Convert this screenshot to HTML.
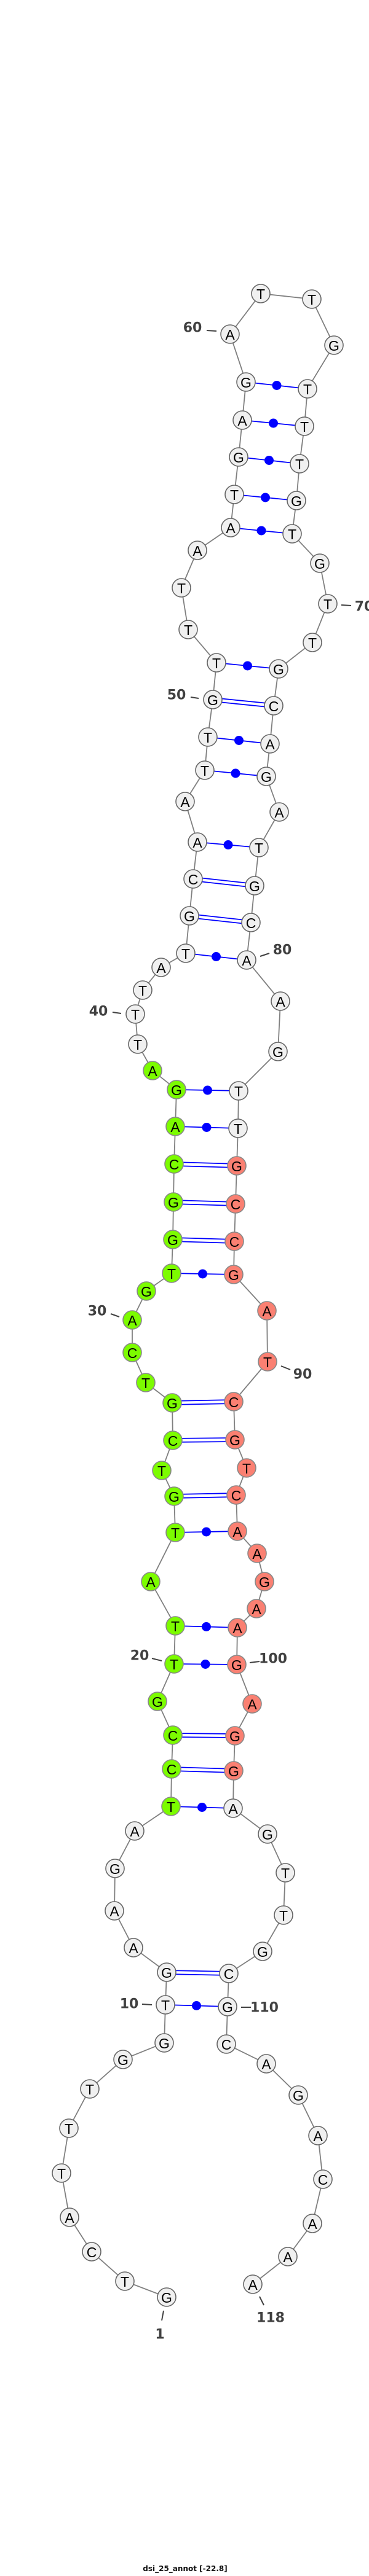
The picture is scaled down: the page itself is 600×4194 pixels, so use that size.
<!DOCTYPE html>
<html><head><meta charset="utf-8"><style>
html,body{margin:0;padding:0;background:#fff;}
svg{display:block;}
.w{fill:#f0f0f0;stroke:#666;stroke-width:1.6;}
.g{fill:#7cfc00;stroke:#888;stroke-width:1.6;}
.r{fill:#fa8072;stroke:#888;stroke-width:1.6;}
text.n{font-family:"Liberation Sans",sans-serif;font-size:23px;fill:#000;text-anchor:middle;dominant-baseline:central;}
text.l{font-family:"DejaVu Sans","Liberation Sans",sans-serif;font-weight:bold;font-size:22px;fill:#404040;text-anchor:middle;dominant-baseline:central;}
.p{stroke:#0000ff;stroke-width:1.8;fill:none;}
.t{stroke:#404040;stroke-width:2;}
</style></head><body>
<svg width="600" height="4194" viewBox="0 0 600 4194" xmlns="http://www.w3.org/2000/svg">
<polyline fill="none" stroke="#808080" stroke-width="1.8" points="271,3740 203,3714 149,3666 113,3610 100,3538 112,3465 146,3401 200,3353 267,3326 269,3264 271,3211 217,3171 186,3111 187,3042 219,2981 278,2941 279,2880 281,2825 256,2770 283,2709 285,2647 245,2575 285,2495 283,2436 263,2394 281,2345 280,2284 237,2251 215,2202 215,2149 238,2102 279,2073 281,2018 282,1957 283,1895 285,1834 287,1774 248,1743 224,1700 220,1651 232,1612 262,1575 302,1552 308,1491 314,1431 321,1371 301,1305 333,1254 338,1200 346,1139 352,1079 306,1025 295,957 321,896 375,859 381,805 388,744 394,684 400,622 374,544 424,478 507,487 543,562 500,633 495,694 487,755 482,815 475,869 520,917 533,983 508,1046 453,1089 445,1149 439,1211 433,1264 454,1322 421,1380 414,1442 408,1502 401,1563 456,1630 452,1712 388,1776 387,1837 385,1898 383,1960 381,2021 380,2075 434,2134 435,2217 380,2282 382,2344 401,2390 384,2434 386,2493 418,2529 430,2575 417,2619 386,2650 385,2710 410,2774 382,2826 380,2883 379,2944 435,2986 464,3049 461,3118 427,3177 372,3213 370,3267 368,3328 433,3360 485,3411 517,3477 525,3548 508,3620 468,3674 411,3719"/>
<!-- single (dot) pairs -->
<g class="p">
<line x1="269" y1="3264" x2="370" y2="3267"/>
<line x1="278" y1="2941" x2="379" y2="2944"/>
<line x1="283" y1="2709" x2="385" y2="2710"/>
<line x1="285" y1="2647" x2="386" y2="2650"/>
<line x1="285" y1="2495" x2="386" y2="2493"/>
<line x1="279" y1="2073" x2="380" y2="2075"/>
<line x1="285" y1="1834" x2="387" y2="1837"/>
<line x1="287" y1="1774" x2="388" y2="1776"/>
<line x1="302" y1="1552" x2="401" y2="1563"/>
<line x1="321" y1="1371" x2="421" y2="1380"/>
<line x1="333" y1="1254" x2="433" y2="1264"/>
<line x1="338" y1="1200" x2="439" y2="1211"/>
<line x1="352" y1="1079" x2="453" y2="1089"/>
<line x1="375" y1="859" x2="475" y2="869"/>
<line x1="381" y1="805" x2="482" y2="815"/>
<line x1="388" y1="744" x2="487" y2="755"/>
<line x1="394" y1="684" x2="495" y2="694"/>
<line x1="400" y1="622" x2="500" y2="633"/>
<!-- double pairs -->
<line x1="271" y1="3208" x2="372" y2="3210"/><line x1="271" y1="3214" x2="372" y2="3216"/>
<line x1="279" y1="2877" x2="380" y2="2880"/><line x1="279" y1="2883" x2="380" y2="2886"/>
<line x1="281" y1="2822" x2="382" y2="2823"/><line x1="281" y1="2828" x2="382" y2="2829"/>
<line x1="283" y1="2433" x2="384" y2="2431"/><line x1="283" y1="2439" x2="384" y2="2437"/>
<line x1="281" y1="2342" x2="382" y2="2341"/><line x1="281" y1="2348" x2="382" y2="2347"/>
<line x1="280" y1="2281" x2="380" y2="2279"/><line x1="280" y1="2287" x2="380" y2="2285"/>
<line x1="281" y1="2015" x2="381" y2="2018"/><line x1="281" y1="2021" x2="381" y2="2024"/>
<line x1="282" y1="1954" x2="383" y2="1957"/><line x1="282" y1="1960" x2="383" y2="1963"/>
<line x1="283" y1="1892" x2="385" y2="1895"/><line x1="283" y1="1898" x2="385" y2="1901"/>
<line x1="308" y1="1488" x2="408" y2="1499"/><line x1="308" y1="1494" x2="408" y2="1505"/>
<line x1="314" y1="1428" x2="414" y2="1439"/><line x1="314" y1="1434" x2="414" y2="1445"/>
<line x1="346" y1="1136" x2="445" y2="1146"/><line x1="346" y1="1142" x2="445" y2="1152"/>
</g>
<g fill="#0000ff">
<circle cx="319.5" cy="3265.5" r="7.5"/>
<circle cx="328.5" cy="2942.5" r="7.5"/>
<circle cx="334" cy="2709.5" r="7.5"/>
<circle cx="335.5" cy="2648.5" r="7.5"/>
<circle cx="335.5" cy="2494" r="7.5"/>
<circle cx="329.5" cy="2074" r="7.5"/>
<circle cx="336" cy="1835.5" r="7.5"/>
<circle cx="337.5" cy="1775" r="7.5"/>
<circle cx="351.5" cy="1557.5" r="7.5"/>
<circle cx="371" cy="1375.5" r="7.5"/>
<circle cx="383" cy="1259" r="7.5"/>
<circle cx="388.5" cy="1205.5" r="7.5"/>
<circle cx="402.5" cy="1084" r="7.5"/>
<circle cx="425" cy="864" r="7.5"/>
<circle cx="431.5" cy="810" r="7.5"/>
<circle cx="437.5" cy="749.5" r="7.5"/>
<circle cx="444.5" cy="689" r="7.5"/>
<circle cx="450" cy="627.5" r="7.5"/>
</g>
<!-- nodes -->
<g>
<circle class="w" cx="271" cy="3740" r="15"/><text class="n" x="271" y="3741">G</text>
<circle class="w" cx="203" cy="3714" r="15"/><text class="n" x="203" y="3715">T</text>
<circle class="w" cx="149" cy="3666" r="15"/><text class="n" x="149" y="3667">C</text>
<circle class="w" cx="113" cy="3610" r="15"/><text class="n" x="113" y="3611">A</text>
<circle class="w" cx="100" cy="3538" r="15"/><text class="n" x="100" y="3539">T</text>
<circle class="w" cx="112" cy="3465" r="15"/><text class="n" x="112" y="3466">T</text>
<circle class="w" cx="146" cy="3401" r="15"/><text class="n" x="146" y="3402">T</text>
<circle class="w" cx="200" cy="3353" r="15"/><text class="n" x="200" y="3354">G</text>
<circle class="w" cx="267" cy="3326" r="15"/><text class="n" x="267" y="3327">G</text>
<circle class="w" cx="269" cy="3264" r="15"/><text class="n" x="269" y="3265">T</text>
<circle class="w" cx="271" cy="3211" r="15"/><text class="n" x="271" y="3212">G</text>
<circle class="w" cx="217" cy="3171" r="15"/><text class="n" x="217" y="3172">A</text>
<circle class="w" cx="186" cy="3111" r="15"/><text class="n" x="186" y="3112">A</text>
<circle class="w" cx="187" cy="3042" r="15"/><text class="n" x="187" y="3043">G</text>
<circle class="w" cx="219" cy="2981" r="15"/><text class="n" x="219" y="2982">A</text>
<circle class="g" cx="278" cy="2941" r="15"/><text class="n" x="278" y="2942">T</text>
<circle class="g" cx="279" cy="2880" r="15"/><text class="n" x="279" y="2881">C</text>
<circle class="g" cx="281" cy="2825" r="15"/><text class="n" x="281" y="2826">C</text>
<circle class="g" cx="256" cy="2770" r="15"/><text class="n" x="256" y="2771">G</text>
<circle class="g" cx="283" cy="2709" r="15"/><text class="n" x="283" y="2710">T</text>
<circle class="g" cx="285" cy="2647" r="15"/><text class="n" x="285" y="2648">T</text>
<circle class="g" cx="245" cy="2575" r="15"/><text class="n" x="245" y="2576">A</text>
<circle class="g" cx="285" cy="2495" r="15"/><text class="n" x="285" y="2496">T</text>
<circle class="g" cx="283" cy="2436" r="15"/><text class="n" x="283" y="2437">G</text>
<circle class="g" cx="263" cy="2394" r="15"/><text class="n" x="263" y="2395">T</text>
<circle class="g" cx="281" cy="2345" r="15"/><text class="n" x="281" y="2346">C</text>
<circle class="g" cx="280" cy="2284" r="15"/><text class="n" x="280" y="2285">G</text>
<circle class="g" cx="237" cy="2251" r="15"/><text class="n" x="237" y="2252">T</text>
<circle class="g" cx="215" cy="2202" r="15"/><text class="n" x="215" y="2203">C</text>
<circle class="g" cx="215" cy="2149" r="15"/><text class="n" x="215" y="2150">A</text>
<circle class="g" cx="238" cy="2102" r="15"/><text class="n" x="238" y="2103">G</text>
<circle class="g" cx="279" cy="2073" r="15"/><text class="n" x="279" y="2074">T</text>
<circle class="g" cx="281" cy="2018" r="15"/><text class="n" x="281" y="2019">G</text>
<circle class="g" cx="282" cy="1957" r="15"/><text class="n" x="282" y="1958">G</text>
<circle class="g" cx="283" cy="1895" r="15"/><text class="n" x="283" y="1896">C</text>
<circle class="g" cx="285" cy="1834" r="15"/><text class="n" x="285" y="1835">A</text>
<circle class="g" cx="287" cy="1774" r="15"/><text class="n" x="287" y="1775">G</text>
<circle class="g" cx="248" cy="1743" r="15"/><text class="n" x="248" y="1744">A</text>
<circle class="w" cx="224" cy="1700" r="15"/><text class="n" x="224" y="1701">T</text>
<circle class="w" cx="220" cy="1651" r="15"/><text class="n" x="220" y="1652">T</text>
<circle class="w" cx="232" cy="1612" r="15"/><text class="n" x="232" y="1613">T</text>
<circle class="w" cx="262" cy="1575" r="15"/><text class="n" x="262" y="1576">A</text>
<circle class="w" cx="302" cy="1552" r="15"/><text class="n" x="302" y="1553">T</text>
<circle class="w" cx="308" cy="1491" r="15"/><text class="n" x="308" y="1492">G</text>
<circle class="w" cx="314" cy="1431" r="15"/><text class="n" x="314" y="1432">C</text>
<circle class="w" cx="321" cy="1371" r="15"/><text class="n" x="321" y="1372">A</text>
<circle class="w" cx="301" cy="1305" r="15"/><text class="n" x="301" y="1306">A</text>
<circle class="w" cx="333" cy="1254" r="15"/><text class="n" x="333" y="1255">T</text>
<circle class="w" cx="338" cy="1200" r="15"/><text class="n" x="338" y="1201">T</text>
<circle class="w" cx="346" cy="1139" r="15"/><text class="n" x="346" y="1140">G</text>
<circle class="w" cx="352" cy="1079" r="15"/><text class="n" x="352" y="1080">T</text>
<circle class="w" cx="306" cy="1025" r="15"/><text class="n" x="306" y="1026">T</text>
<circle class="w" cx="295" cy="957" r="15"/><text class="n" x="295" y="958">T</text>
<circle class="w" cx="321" cy="896" r="15"/><text class="n" x="321" y="897">A</text>
<circle class="w" cx="375" cy="859" r="15"/><text class="n" x="375" y="860">A</text>
<circle class="w" cx="381" cy="805" r="15"/><text class="n" x="381" y="806">T</text>
<circle class="w" cx="388" cy="744" r="15"/><text class="n" x="388" y="745">G</text>
<circle class="w" cx="394" cy="684" r="15"/><text class="n" x="394" y="685">A</text>
<circle class="w" cx="400" cy="622" r="15"/><text class="n" x="400" y="623">G</text>
<circle class="w" cx="374" cy="544" r="15"/><text class="n" x="374" y="545">A</text>
<circle class="w" cx="424" cy="478" r="15"/><text class="n" x="424" y="479">T</text>
<circle class="w" cx="507" cy="487" r="15"/><text class="n" x="507" y="488">T</text>
<circle class="w" cx="543" cy="562" r="15"/><text class="n" x="543" y="563">G</text>
<circle class="w" cx="500" cy="633" r="15"/><text class="n" x="500" y="634">T</text>
<circle class="w" cx="495" cy="694" r="15"/><text class="n" x="495" y="695">T</text>
<circle class="w" cx="487" cy="755" r="15"/><text class="n" x="487" y="756">T</text>
<circle class="w" cx="482" cy="815" r="15"/><text class="n" x="482" y="816">G</text>
<circle class="w" cx="475" cy="869" r="15"/><text class="n" x="475" y="870">T</text>
<circle class="w" cx="520" cy="917" r="15"/><text class="n" x="520" y="918">G</text>
<circle class="w" cx="533" cy="983" r="15"/><text class="n" x="533" y="984">T</text>
<circle class="w" cx="508" cy="1046" r="15"/><text class="n" x="508" y="1047">T</text>
<circle class="w" cx="453" cy="1089" r="15"/><text class="n" x="453" y="1090">G</text>
<circle class="w" cx="445" cy="1149" r="15"/><text class="n" x="445" y="1150">C</text>
<circle class="w" cx="439" cy="1211" r="15"/><text class="n" x="439" y="1212">A</text>
<circle class="w" cx="433" cy="1264" r="15"/><text class="n" x="433" y="1265">G</text>
<circle class="w" cx="454" cy="1322" r="15"/><text class="n" x="454" y="1323">A</text>
<circle class="w" cx="421" cy="1380" r="15"/><text class="n" x="421" y="1381">T</text>
<circle class="w" cx="414" cy="1442" r="15"/><text class="n" x="414" y="1443">G</text>
<circle class="w" cx="408" cy="1502" r="15"/><text class="n" x="408" y="1503">C</text>
<circle class="w" cx="401" cy="1563" r="15"/><text class="n" x="401" y="1564">A</text>
<circle class="w" cx="456" cy="1630" r="15"/><text class="n" x="456" y="1631">A</text>
<circle class="w" cx="452" cy="1712" r="15"/><text class="n" x="452" y="1713">G</text>
<circle class="w" cx="388" cy="1776" r="15"/><text class="n" x="388" y="1777">T</text>
<circle class="w" cx="387" cy="1837" r="15"/><text class="n" x="387" y="1838">T</text>
<circle class="r" cx="385" cy="1898" r="15"/><text class="n" x="385" y="1899">G</text>
<circle class="r" cx="383" cy="1960" r="15"/><text class="n" x="383" y="1961">C</text>
<circle class="r" cx="381" cy="2021" r="15"/><text class="n" x="381" y="2022">C</text>
<circle class="r" cx="380" cy="2075" r="15"/><text class="n" x="380" y="2076">G</text>
<circle class="r" cx="434" cy="2134" r="15"/><text class="n" x="434" y="2135">A</text>
<circle class="r" cx="435" cy="2217" r="15"/><text class="n" x="435" y="2218">T</text>
<circle class="r" cx="380" cy="2282" r="15"/><text class="n" x="380" y="2283">C</text>
<circle class="r" cx="382" cy="2344" r="15"/><text class="n" x="382" y="2345">G</text>
<circle class="r" cx="401" cy="2390" r="15"/><text class="n" x="401" y="2391">T</text>
<circle class="r" cx="384" cy="2434" r="15"/><text class="n" x="384" y="2435">C</text>
<circle class="r" cx="386" cy="2493" r="15"/><text class="n" x="386" y="2494">A</text>
<circle class="r" cx="418" cy="2529" r="15"/><text class="n" x="418" y="2530">A</text>
<circle class="r" cx="430" cy="2575" r="15"/><text class="n" x="430" y="2576">G</text>
<circle class="r" cx="417" cy="2619" r="15"/><text class="n" x="417" y="2620">A</text>
<circle class="r" cx="386" cy="2650" r="15"/><text class="n" x="386" y="2651">A</text>
<circle class="r" cx="385" cy="2710" r="15"/><text class="n" x="385" y="2711">G</text>
<circle class="r" cx="410" cy="2774" r="15"/><text class="n" x="410" y="2775">A</text>
<circle class="r" cx="382" cy="2826" r="15"/><text class="n" x="382" y="2827">G</text>
<circle class="r" cx="380" cy="2883" r="15"/><text class="n" x="380" y="2884">G</text>
<circle class="w" cx="379" cy="2944" r="15"/><text class="n" x="379" y="2945">A</text>
<circle class="w" cx="435" cy="2986" r="15"/><text class="n" x="435" y="2987">G</text>
<circle class="w" cx="464" cy="3049" r="15"/><text class="n" x="464" y="3050">T</text>
<circle class="w" cx="461" cy="3118" r="15"/><text class="n" x="461" y="3119">T</text>
<circle class="w" cx="427" cy="3177" r="15"/><text class="n" x="427" y="3178">G</text>
<circle class="w" cx="372" cy="3213" r="15"/><text class="n" x="372" y="3214">C</text>
<circle class="w" cx="370" cy="3267" r="15"/><text class="n" x="370" y="3268">G</text>
<circle class="w" cx="368" cy="3328" r="15"/><text class="n" x="368" y="3329">C</text>
<circle class="w" cx="433" cy="3360" r="15"/><text class="n" x="433" y="3361">A</text>
<circle class="w" cx="485" cy="3411" r="15"/><text class="n" x="485" y="3412">G</text>
<circle class="w" cx="517" cy="3477" r="15"/><text class="n" x="517" y="3478">A</text>
<circle class="w" cx="525" cy="3548" r="15"/><text class="n" x="525" y="3549">C</text>
<circle class="w" cx="508" cy="3620" r="15"/><text class="n" x="508" y="3621">A</text>
<circle class="w" cx="468" cy="3674" r="15"/><text class="n" x="468" y="3675">A</text>
<circle class="w" cx="411" cy="3719" r="15"/><text class="n" x="411" y="3720">A</text>
</g>
<!-- labels -->
<g class="t">
<line x1="336" y1="538" x2="352" y2="539"/>
<line x1="555" y1="985" x2="571" y2="986"/>
<line x1="310" y1="1135" x2="323" y2="1137"/>
<line x1="423" y1="1557" x2="438" y2="1552"/>
<line x1="183" y1="1648" x2="197" y2="1650"/>
<line x1="180" y1="2139" x2="194" y2="2144"/>
<line x1="457" y1="2224" x2="472" y2="2230"/>
<line x1="247" y1="2700" x2="263" y2="2704"/>
<line x1="406" y1="2707" x2="422" y2="2705"/>
<line x1="231" y1="3263" x2="247" y2="3264"/>
<line x1="392" y1="3268" x2="408" y2="3268"/>
<line x1="266" y1="3762" x2="263" y2="3778"/>
<line x1="422" y1="3739" x2="429" y2="3753"/>
</g>
<text class="l" x="313" y="534">60</text>
<text class="l" x="592" y="988">70</text>
<text class="l" x="287" y="1132">50</text>
<text class="l" x="459" y="1547">80</text>
<text class="l" x="160" y="1647">40</text>
<text class="l" x="158" y="2135">30</text>
<text class="l" x="492" y="2238">90</text>
<text class="l" x="227" y="2696">20</text>
<text class="l" x="444" y="2701">100</text>
<text class="l" x="210" y="3263">10</text>
<text class="l" x="430" y="3269">110</text>
<text class="l" x="260" y="3801">1</text>
<text class="l" x="440" y="3774">118</text>
<text x="301" y="4186" font-family="DejaVu Sans, sans-serif" font-weight="bold" font-size="12" fill="#111" text-anchor="middle">dsi_25_annot [-22.8]</text>
</svg>
</body></html>
